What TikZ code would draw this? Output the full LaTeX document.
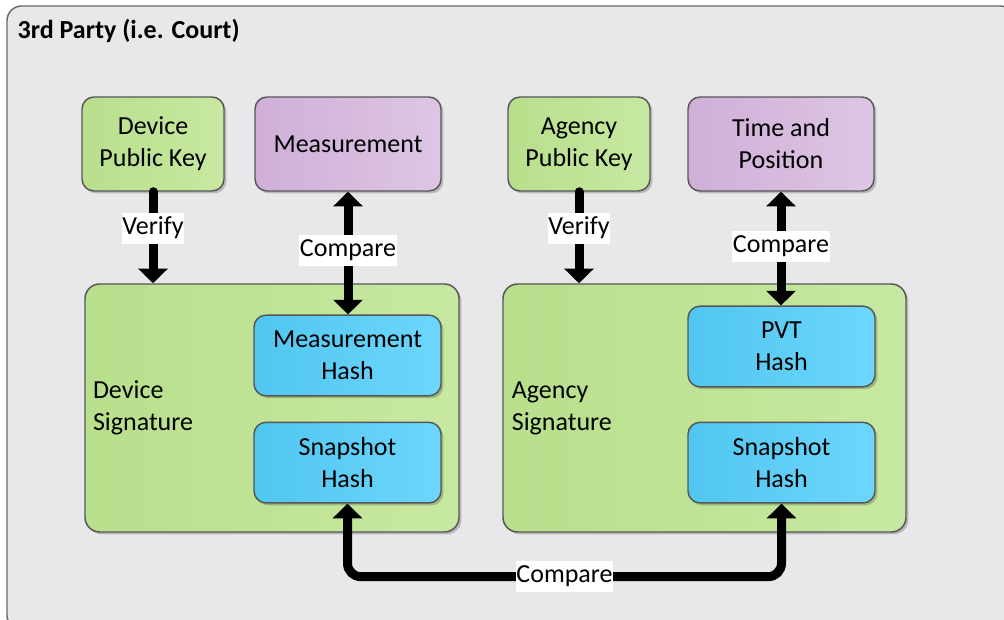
\documentclass[tikz,border=0pt]{standalone}
\usepackage{fontspec}
\setmainfont{Carlito}
\usepackage{tikz}
\usetikzlibrary{shapes.geometric, arrows.meta, calc, positioning, shadows}
\definecolor{partygray}{HTML}{E8E8EA}
\definecolor{partyedge}{HTML}{6A6A6C}
\definecolor{boxedge}{HTML}{575757}
\definecolor{keygreen}{HTML}{B8DF8C}
\definecolor{keygreenlt}{HTML}{C7E8A1}
\definecolor{datapurple}{HTML}{D0AED8}
\definecolor{datapurplelt}{HTML}{DDC6E4}
\definecolor{hashblue}{HTML}{50C6F0}
\definecolor{hashbluelt}{HTML}{6DD6FC}
\tikzstyle{party} = [rectangle, rounded corners=11pt, draw=partyedge, line width=1.1pt, fill=partygray, minimum width=756pt, minimum height=468pt]
\tikzstyle{box} = [rectangle, rounded corners=9pt, draw=boxedge, line width=1.1pt, align=center, drop shadow={shadow xshift=1.8pt, shadow yshift=-1.8pt, fill=black, opacity=0.2}]
\tikzstyle{keybox} = [box, left color=keygreen, right color=keygreenlt, minimum width=106.5pt, minimum height=70.5pt]
\tikzstyle{databox} = [box, left color=datapurple, right color=datapurplelt, minimum width=139.5pt, minimum height=70.5pt]
\tikzstyle{sigbox} = [box, rounded corners=11pt, left color=keygreen, right color=keygreenlt, minimum height=186pt, align=left, inner xsep=6pt]
\tikzstyle{hashbox} = [box, left color=hashblue, right color=hashbluelt, minimum width=140.25pt, minimum height=60.5pt]
\tikzstyle{tag} = [sharp corners, fill=white, inner xsep=0.6pt, inner ysep=3pt, text height=13pt, text depth=4pt]
\tikzstyle{arrow} = [line width=6.75pt, line cap=round, -{Triangle[width=21.75pt, length=11pt]}]
\tikzstyle{dblarrow} = [line width=6.75pt, {Triangle[width=21.75pt, length=11pt]}-{Triangle[width=21.75pt, length=11pt]}]

\begin{document}
\begin{tikzpicture}[x=0.75pt, y=-0.75pt, font=\fontsize{19.5}{24}\selectfont]
		\useasboundingbox (0,0) rectangle (1004,620);
		\clip (0,0) rectangle (1004,620);
		\node (ThirdParty) [party] at (511,318) {};
		\node (Title) [anchor=west, font=\fontsize{19.5}{24}\selectfont\bfseries] at (13,31) {3rd Party (i.e. Court)};
		% top row
		\node (DeviceKey) [keybox] at (153,144) {Device\\Public Key};
		\node (Measurement) [databox] at (348,144) {Measurement};
		\node (AgencyKey) [keybox] at (579,144) {Agency\\Public Key};
		\node (TimePosition) [databox] at (781,144) {Time and\\Position};
		% signatures
		\node (DeviceSignature) [sigbox, minimum width=280.5pt, text width=268.5pt] at (272,408) {Device\\Signature};
		\node (AgencySignature) [sigbox, minimum width=302.25pt, text width=289pt] at (704.5,408) {Agency\\Signature};
		\node (MeasurementHash) [hashbox] at (347.5,355.5) {Measurement\\Hash};
		\node (DeviceSnapshotHash) [hashbox, below = 18.75pt of MeasurementHash] {Snapshot\\Hash};
		\node (PVTHash) [hashbox] at (781.5,346.5) {PVT\\Hash};
		\node (AgencySnapshotHash) [hashbox, below = 25.5pt of PVTHash] {Snapshot\\Hash};
		% connectors
		\draw [arrow] (DeviceKey.south) -- node[tag, pos=0.4] {Verify} (DeviceKey.south |- DeviceSignature.north);
		\draw [arrow] (AgencyKey.south) -- node[tag, pos=0.4] {Verify} (AgencyKey.south |- AgencySignature.north);
		\draw [dblarrow] (Measurement.south) -- node[tag, pos=0.48] {Compare} (Measurement.south |- MeasurementHash.north);
		\draw [dblarrow] (TimePosition.south) -- node[tag, pos=0.48] {Compare} (TimePosition.south |- PVTHash.north);
		\draw [dblarrow, rounded corners=10pt] (DeviceSnapshotHash.south) -- ++(0,73) coordinate (Bottom) -| node[tag, pos=0.25] {Compare} (AgencySnapshotHash.south);
\end{tikzpicture}
\end{document}
